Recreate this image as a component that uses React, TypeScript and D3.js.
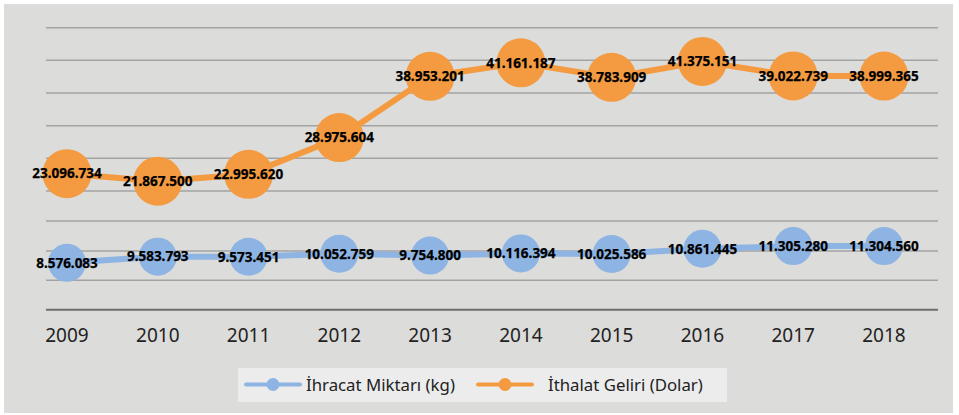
import React from 'react'
import * as d3 from 'd3'

// yıllar ve seriler (milyon değil, ham değerler)
const years = ['2009', '2010', '2011', '2012', '2013', '2014', '2015', '2016', '2017', '2018']
const ihracat = [8576083, 9583793, 9573451, 10052759, 9754800, 10116394, 10025586, 10861445, 11305280, 11304560]
const ithalat = [23096734, 21867500, 22995620, 28975604, 38953201, 41161187, 38783909, 41375151, 39022739, 38999365]
// gizli eksenin ızgara çizgileri (görselden okunan değerler)
const gridValues = [940000, 5730000, 10500000, 15390000, 20280000, 25600000, 30910000, 36240000, 41560000, 46870000]

const W = 959
const H = 415
const BLUE = '#8eb4e3'
const ORANGE = '#f49b41'
const fmt = (v: number) => d3.format(',')(v).replace(/,/g, '.')

export default function App() {
    const x = d3.scalePoint<string>().domain(years).range([67, 884])
    const y = d3.scaleLinear().domain([0, 45000000]).range([315.5, 315.5 - 45 * 6.14])

    const line = d3
        .line<number>()
        .x((d, i) => x(years[i]) as number)
        .y((d) => y(d))

    const series = [
        { name: 'İhracat Miktarı (kg)', data: ihracat, color: BLUE, r: 19 },
        { name: 'İthalat Geliri (Dolar)', data: ithalat, color: ORANGE, r: 24.5 },
    ]

    return (
        <svg width={W} height={H} style={{ position: 'absolute', left: 0, top: 0 }}>
            <rect x={4} y={4} width={949} height={409} fill="#dcdcda" />
            {gridValues.map((g, i) => (
                <line
                    key={i}
                    x1={46}
                    x2={938}
                    y1={y(g)}
                    y2={y(g)}
                    stroke={i === 0 ? '#6e6e6e' : '#a3a3a3'}
                    strokeWidth={i === 0 ? 2 : 1.6}
                />
            ))}
            {years.map((yr) => (
                <text
                    key={yr}
                    x={x(yr)}
                    y={342}
                    textAnchor="middle"
                    fontFamily="'Noto Sans', sans-serif"
                    fontSize={19}
                    fill="#222"
                >
                    {yr}
                </text>
            ))}
            {series.map((s) => (
                <g key={s.name}>
                    <path d={line(s.data) || ''} fill="none" stroke={s.color} strokeWidth={6} />
                    {s.data.map((d, i) => (
                        <circle key={i} cx={x(years[i])} cy={y(d)} r={s.r} fill={s.color} />
                    ))}
                    {s.data.map((d, i) => (
                        <text
                            key={'t' + i}
                            x={x(years[i])}
                            y={y(d) + 4.8}
                            textAnchor="middle"
                            fontFamily="'Noto Sans', sans-serif"
                            fontWeight="bold"
                            fontSize={13.5}
                            fill="#000"
                            stroke="#000"
                            strokeWidth={0.25}
                        >
                            {fmt(d)}
                        </text>
                    ))}
                </g>
            ))}
            <rect x={238} y={368} width={489} height={34} fill="#ececec" />
            {series.map((s, i) => {
                const lx = i === 0 ? 246 : 478
                const tx = i === 0 ? 306 : 548
                return (
                    <g key={'l' + i}>
                        <line x1={lx} x2={lx + 54} y1={384.5} y2={384.5} stroke={s.color} strokeWidth={4} strokeLinecap="round" />
                        <circle cx={lx + 27} cy={384.5} r={6.5} fill={s.color} />
                        <text x={tx} y={390.5} fontFamily="'Noto Sans', sans-serif" fontSize={16.8} fill="#222">
                            {s.name}
                        </text>
                    </g>
                )
            })}
        </svg>
    )
}
